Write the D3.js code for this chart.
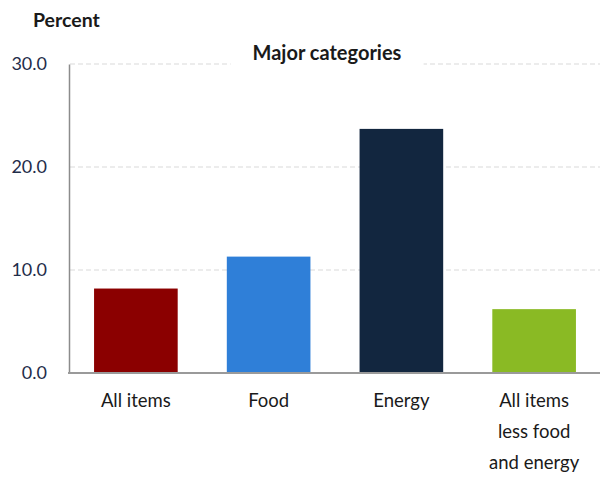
<!DOCTYPE html>
<html>
<head>
<meta charset="utf-8">
<script src="https://cdn.jsdelivr.net/npm/d3@7"></script>
<style>
  html, body { margin: 0; padding: 0; background: #fff; }
  svg { display: block; font-family: Lato, "Open Sans", sans-serif; }
</style>
</head>
<body>
<svg id="chart" width="607" height="478"></svg>
<script>
// 12-month percent change, major CPI categories
const categories = ["All items", "Food", "Energy", "All items less food and energy"];
const categoryLines = [["All items"], ["Food"], ["Energy"], ["All items", "less food", "and energy"]];
const values = [8.2, 11.3, 23.7, 6.2];
const colors = ["#8b0000", "#2f7fd8", "#12263f", "#8aba24"];
const yTicks = [0, 10, 20, 30];

const svg = d3.select("#chart");

const x = d3.scaleBand()
  .domain(categories)
  .range([69.5, 600.5])
  .paddingInner(0.37)
  .paddingOuter(0.185);

const y = d3.scaleLinear()
  .domain([0, 30])
  .range([373, 64]);

// horizontal dashed gridlines
svg.append("g")
  .selectAll("line")
  .data(yTicks.filter(d => d > 0))
  .join("line")
  .attr("x1", 70)
  .attr("x2", 600)
  .attr("y1", d => y(d))
  .attr("y2", d => y(d))
  .attr("stroke", "#d9d9d9")
  .attr("stroke-width", 1)
  .attr("stroke-dasharray", "5,3");

// chart title with a white backing so the top gridline breaks around it
const title = svg.append("g");
const titleText = title.append("text")
  .attr("x", 327)
  .attr("y", 60)
  .attr("text-anchor", "middle")
  .attr("font-size", 20)
  .attr("font-weight", "bold")
  .attr("fill", "#1a1a1a")
  .text("Major categories");
const bb = titleText.node().getBBox();
title.insert("rect", "text")
  .attr("x", bb.x - 22)
  .attr("y", bb.y - 2)
  .attr("width", bb.width + 44)
  .attr("height", bb.height + 8)
  .attr("fill", "#fff");

// bars
svg.append("g")
  .selectAll("rect")
  .data(values)
  .join("rect")
  .attr("x", (d, i) => x(categories[i]))
  .attr("width", x.bandwidth())
  .attr("y", d => y(d))
  .attr("height", d => y(0) - y(d))
  .attr("fill", (d, i) => colors[i]);

// y axis
const yAxis = svg.append("g")
  .attr("transform", "translate(69,0)")
  .call(d3.axisLeft(y).tickValues(yTicks).tickSize(0).tickPadding(22).tickFormat(d3.format(".1f")));
yAxis.select(".domain").attr("stroke", "#8c8c8c").attr("stroke-width", 1.5);
yAxis.selectAll("text")
  .attr("font-size", 18)
  .attr("fill", "#1f2d4a")
  .attr("font-family", "Lato, 'Open Sans', sans-serif");

// x baseline
svg.append("line")
  .attr("x1", 68)
  .attr("x2", 600)
  .attr("y1", y(0))
  .attr("y2", y(0))
  .attr("stroke", "#9a9a9a")
  .attr("stroke-width", 2);

// category labels
const labels = svg.append("g")
  .selectAll("text")
  .data(categories)
  .join("text")
  .attr("x", d => x(d) + x.bandwidth() / 2)
  .attr("y", 407)
  .attr("text-anchor", "middle")
  .attr("font-size", 18.5)
  .attr("fill", "#1a1a1a");
labels.selectAll("tspan")
  .data((d, i) => categoryLines[i])
  .join("tspan")
  .attr("x", function() { return this.parentNode.getAttribute("x"); })
  .attr("dy", (d, j) => j === 0 ? 0 : 31)
  .text(d => d);

// unit label
svg.append("text")
  .attr("x", 33)
  .attr("y", 27)
  .attr("font-size", 19.5)
  .attr("font-weight", "bold")
  .attr("fill", "#1a1a1a")
  .text("Percent");
</script>
</body>
</html>
